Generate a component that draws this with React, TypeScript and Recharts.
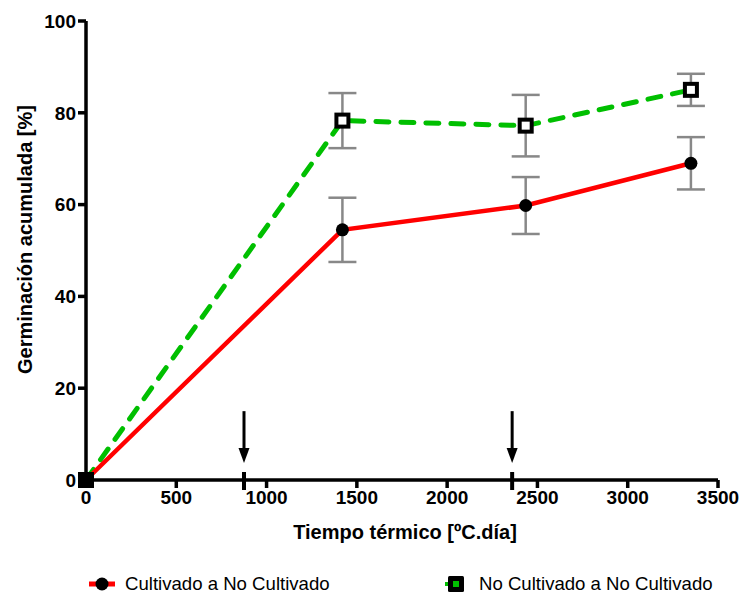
import React from 'react';
import { ComposedChart, Line, XAxis, YAxis, ErrorBar, ReferenceLine, Legend } from 'recharts';

const tiempo = [0, 1420, 2435, 3350];
const cultivado = [0, 54.5, 59.8, 69.0];
const cultivadoErr = [0, 7.0, 6.2, 5.7];
const noCultivado = [0, 78.3, 77.2, 85.0];
const noCultivadoErr = [0, 6.0, 6.7, 3.5];
const xTicks = [0, 500, 1000, 1500, 2000, 2500, 3000, 3500];
const yTicks = [0, 20, 40, 60, 80, 100];
const arrowX = [875, 2360];
const arrowTop = 15;

const FONT = '"Liberation Sans", Arial, sans-serif';

const data = tiempo.map((t, i) => ({
  t,
  c: cultivado[i],
  cErr: cultivadoErr[i],
  n: noCultivado[i],
  nErr: noCultivadoErr[i],
}));

const RedDot = (p: any) => <circle key={`r${p.index}`} cx={p.cx} cy={p.cy} r={6.5} fill="#000" />;
const GreenDot = (p: any) => (
  <rect key={`g${p.index}`} x={p.cx - 6} y={p.cy - 6} width={12} height={12} fill="#fff" stroke="#000" strokeWidth={4} />
);

const arrowShape = (p: any) => {
  const { x1, y1, y2 } = p;
  const x = x1;
  return (
    <g>
      <line x1={x} y1={y1} x2={x} y2={y2 - 30} stroke="#000" strokeWidth={3} />
      <polygon points={`${x - 5.5},${y2 - 32} ${x + 5.5},${y2 - 32} ${x},${y2 - 17}`} fill="#000" />
      <line x1={x} y1={y2 - 8} x2={x} y2={y2 + 10} stroke="#000" strokeWidth={4} />
    </g>
  );
};

const YLabel = (p: any) => {
  const vb = p.viewBox || { x: 0, y: 21, width: 86, height: 459 };
  const cx = 25;
  const cy = vb.y + vb.height / 2 - 11;
  return (
    <text x={cx} y={cy} transform={`rotate(-90, ${cx}, ${cy})`} textAnchor="middle" dominantBaseline="central"
      fontFamily={FONT} fontWeight="bold" fontSize={20} fill="#000">
      Germinación acumulada [%]
    </text>
  );
};

const XLabel = (p: any) => {
  const vb = p.viewBox || { x: 86, y: 480, width: 632, height: 60 };
  const cx = vb.x + vb.width / 2 + 3;
  return (
    <text x={cx} y={539} textAnchor="middle" fontFamily={FONT} fontWeight="bold" fontSize={20} fill="#000">
      Tiempo térmico [ºC.día]
    </text>
  );
};

const renderLegend = () => (
  <div style={{ position: 'relative', width: 744, height: 24, fontFamily: FONT, fontSize: 18.6, color: '#000' }}>
    <svg width={26} height={16} style={{ position: 'absolute', left: 89, top: 4 }}>
      <line x1={0} y1={8} x2={26} y2={8} stroke="#ff0000" strokeWidth={5} />
      <circle cx={13} cy={8} r={6.5} fill="#000" />
    </svg>
    <span style={{ position: 'absolute', left: 125, top: 0, lineHeight: '24px', whiteSpace: 'nowrap' }}>Cultivado a No Cultivado</span>
    <svg width={20} height={18} style={{ position: 'absolute', left: 445, top: 3 }}>
      <line x1={0} y1={9} x2={6} y2={9} stroke="#00bf00" strokeWidth={4} />
      <rect x={3} y={1} width={16} height={16} rx={1.5} fill="#000" />
      <rect x={8} y={6} width={6} height={6} fill="#00bf00" />
    </svg>
    <span style={{ position: 'absolute', left: 479, top: 0, lineHeight: '24px', whiteSpace: 'nowrap' }}>No Cultivado a No Cultivado</span>
  </div>
);

const tickStyle = { fontFamily: FONT, fontWeight: 'bold' as const, fontSize: 19, fill: '#000' };

export default function App() {
  return (
    <div style={{ position: 'absolute', left: 0, top: 0, width: 744, height: 598, background: '#fff' }}>
      <ComposedChart width={744} height={598} data={data} margin={{ top: 21, right: 26, left: 0, bottom: 58 }}>
        <XAxis
          type="number"
          dataKey="t"
          domain={[0, 3500]}
          ticks={xTicks}
          interval={0}
          height={60}
          tickSize={8}
          tickMargin={3}
          axisLine={{ stroke: '#000', strokeWidth: 3.5 }}
          tickLine={{ stroke: '#000', strokeWidth: 3.5 }}
          tick={tickStyle}
          label={<XLabel />}
        />
        <YAxis
          type="number"
          domain={[0, 100]}
          ticks={yTicks}
          interval={0}
          width={86}
          tickSize={8}
          tickMargin={2}
          axisLine={{ stroke: '#000', strokeWidth: 3.5 }}
          tickLine={{ stroke: '#000', strokeWidth: 3.5 }}
          tick={tickStyle}
          label={<YLabel />}
        />
        {arrowX.map((a) => (
          <ReferenceLine key={a} segment={[{ x: a, y: arrowTop }, { x: a, y: 0 }]} shape={arrowShape} ifOverflow="visible" />
        ))}
        <Line
          type="linear"
          dataKey="n"
          stroke="#00bf00"
          strokeWidth={5}
          strokeDasharray="13 12"
          strokeLinecap="round"
          dot={GreenDot}
          activeDot={false}
          isAnimationActive={false}
        >
          <ErrorBar dataKey="nErr" direction="y" width={14} stroke="#888" strokeWidth={2.5} />
        </Line>
        <Line
          type="linear"
          dataKey="c"
          stroke="#ff0000"
          strokeWidth={4.5}
          dot={RedDot}
          activeDot={false}
          isAnimationActive={false}
        >
          <ErrorBar dataKey="cErr" direction="y" width={14} stroke="#888" strokeWidth={2.5} />
        </Line>
        <Legend
          verticalAlign="middle"
          layout="horizontal"
          align="center"
          wrapperStyle={{ top: 572, left: 0, width: 744, height: 24 }}
          content={renderLegend}
        />
      </ComposedChart>
    </div>
  );
}
